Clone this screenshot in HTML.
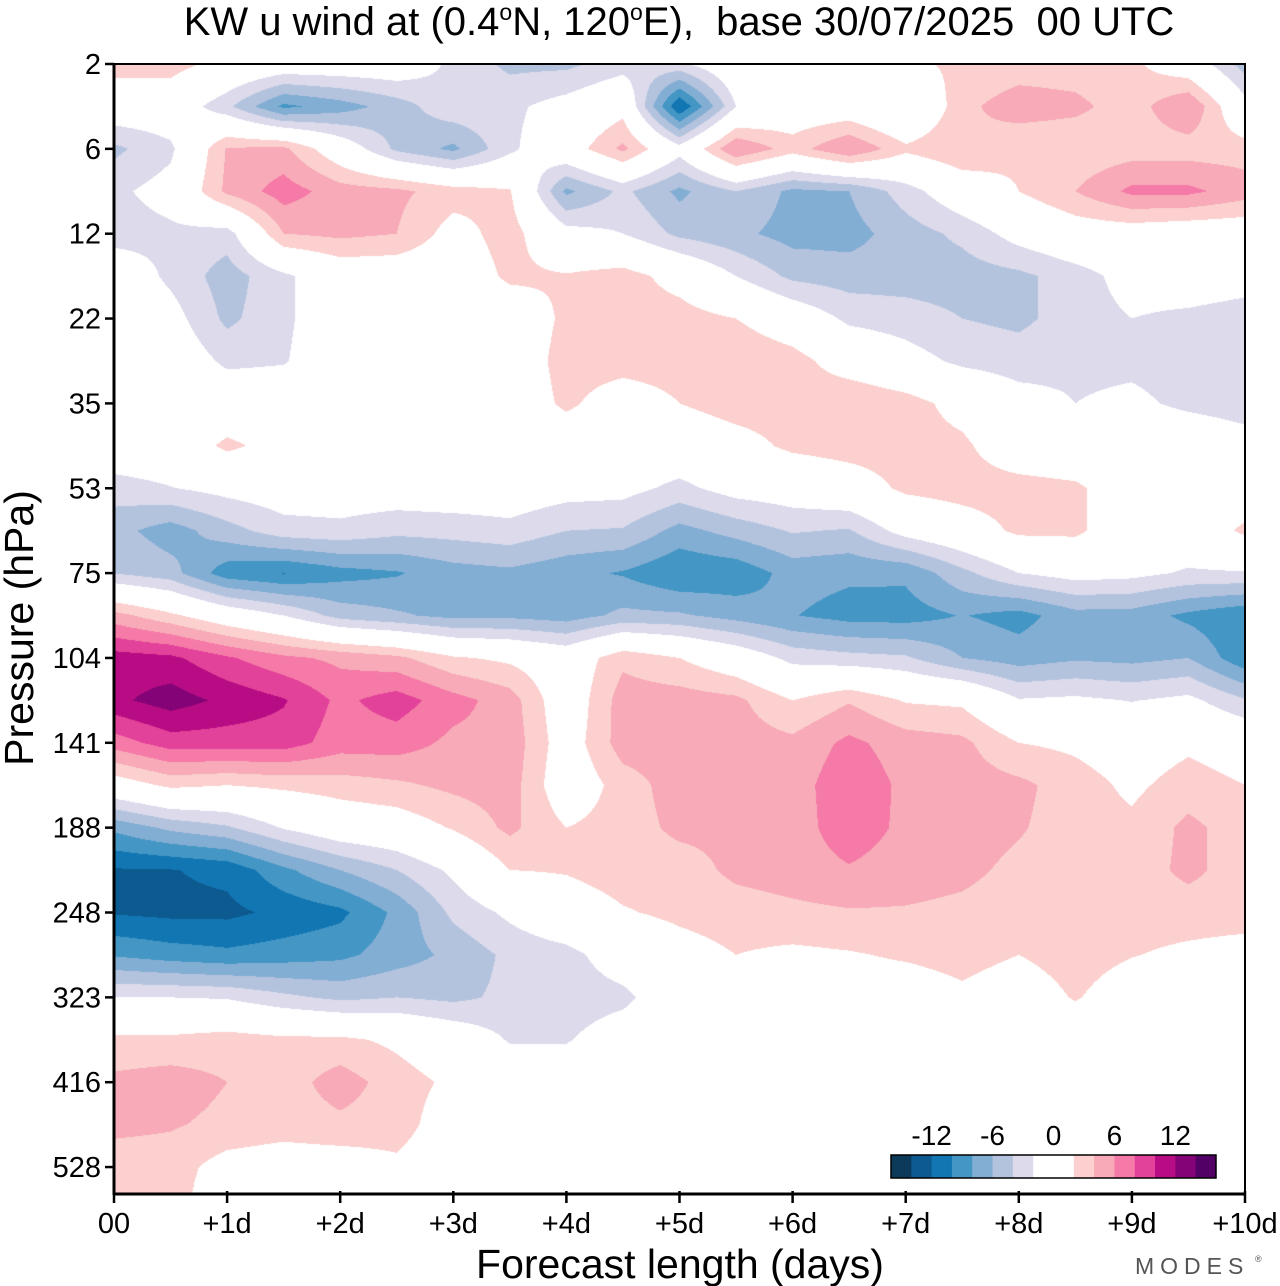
<!DOCTYPE html>
<html><head><meta charset="utf-8">
<style>
html,body{margin:0;padding:0;background:#fff;}
#wrap{position:relative;width:1280px;height:1286px;overflow:hidden;font-family:"Liberation Sans",Arial,sans-serif;}
#field{position:absolute;left:114px;top:64px;}
svg{position:absolute;left:0;top:0;}
</style></head>
<body>
<div id="wrap">
<canvas id="field" width="1131" height="1130"></canvas>
<svg id="axes" width="1280" height="1286"></svg>
</div>
<script>
// ---- data ----
const forecastDays = [0,0.5,1,1.5,2,2.5,3,3.5,4,4.5,5,5.5,6,6.5,7,7.5,8,8.5,9,9.5,10];
const levelIndex = [0,0.5,1,1.5,2,2.5,3,3.5,4,4.5,5,5.5,6,6.5,7,7.5,8,8.5,9,9.5,10,10.5,11,11.5,12,12.5,13,13.5];
const yTickLabels = ["2","6","12","22","35","53","75","104","141","188","248","323","416","528"];
const xTickLabels = ["00","+1d","+2d","+3d","+4d","+5d","+6d","+7d","+8d","+9d","+10d"];
const colorbarLabels = [-12,-6,0,6,12];
const levelEdges = [-14,-12,-10,-8,-6,-4,-2,2,4,6,8,10,12,14];
const levelColors = ["#0b3a5b","#0c5a8f","#1276b3","#4496c5","#83aed3","#b3c3de","#dcdaeb","#ffffff","#fbd0ce","#f8aab8","#f57aa7","#e3429a","#b80c84","#840377","#520066"];
// u wind (m/s), rows = model levels (top to bottom), cols = forecast steps
const uWind = [
[3,3,1,0,0,0,-2.5,-4.5,-4.5,-3,-2.5,0.5,1.5,2,1.5,2.5,3,3,2.5,0,-5],
[0,0,-3.5,-8.5,-7,-5,-2.5,-2.5,-1,1,-12,-2,0,0,-2,3.5,5,4.5,3,6,-1],
[-4.5,-2.5,4.2,4.5,0,-4.5,-6.5,-2.5,0.5,4.5,-1,6,3,6,2.5,4,2.5,2.5,3,3,3],
[-2.5,-1,4.5,7,5,4.5,3,2.2,-6.5,-3.5,-6.5,-4,-6.5,-6,-3,0,2,4,6.5,6.5,5],
[-3,-2.5,-3,4,4.5,4,1,3,-1,-2,-4.5,-5.5,-6.8,-6.8,-5,-3.5,-1,0.5,0.5,0,0],
[0,-2.5,-5,-2.5,0,0,0,2.5,2.2,3,1,-2,-4.5,-5,-5,-5,-4.5,-3,-1,-0.5,-1],
[0,-1,-4.5,-2.5,0,0,0,0,2.5,3,3,2,0,-2.5,-3,-4,-4.5,-3,-2,-2.5,-3],
[0,0,-2.5,-2.2,0,0,0,0,3,3,3,4,3,0.5,-1,-2.5,-3,-2.5,-2.5,-3,-3],
[0,0.5,0,0,0,0,0,0,2.5,0.5,2,3,3,4,3,1,-1,-2,-1.5,-2.5,-3],
[0,0,2.5,1,0,0,0,0,0,0,0,1,2.5,3,3,2.5,0,-0.5,0,0,-1],
[-3,-2.1,-1.2,-0.5,-0.5,-0.5,-0.3,-0.3,-1,-1.2,-2.6,-1,-0.5,0.5,2.5,3,3,2.5,0,0,0],
[-5.3,-7,-4.8,-2.9,-2.6,-3.4,-3.2,-2.7,-4,-4.2,-6.7,-5.2,-3.8,-4.2,-1,0.5,2.5,2.5,0,0,2.5],
[-4.1,-5.2,-9.2,-10.1,-8.8,-8.2,-6.9,-6.5,-7.4,-8.2,-9.8,-9.4,-7.2,-7.6,-7.6,-4.6,-2,-1,-1.3,-2.3,-2.2],
[4.8,2.5,0,-2,-4.8,-5.7,-6.6,-6.5,-7,-5.5,-5.7,-6.8,-7.9,-8.8,-8.9,-7.9,-8.8,-6.8,-6.9,-8.5,-9.8],
[11,10.5,8.3,6.5,5.5,4.5,2.3,1.5,0,3.5,2,0,-2.7,-3.3,-3.7,-6,-7,-6.3,-6.6,-6,-9.5],
[11.5,13,11.5,10.2,7.5,9,6.8,5,0,5,5,4.5,2,3.8,1.8,1.5,-1.8,-1.5,-2.1,-1.4,-3.8],
[7,9,9,9,7,7,5.5,5.3,0.5,5,5,5,4.5,6.5,5,4.5,2,1.5,0.5,1.5,0.5],
[0.5,2.5,2,2.5,3,3.6,4.5,5,0,3,5,5,5,7.5,5.5,5,4.5,3,1.5,3,2],
[-7.5,-5.5,-4.3,-1.8,0,0.5,2.2,4.5,2,3,4.5,4.5,5,7.2,5.5,5,4.2,3,2.5,4.5,3],
[-12.2,-12.1,-11.5,-8.5,-6,-4,-1.5,2,2.2,3,3,4.5,5,5.8,5,4.5,3.5,3,3,4.5,3],
[-12.2,-12.5,-12.5,-11.5,-10.5,-7.5,-3.5,-1.5,0.5,1.8,2.5,3,3.5,3.8,3.8,3.5,3,3,3,3,3],
[-8.2,-9,-9.5,-9,-8.5,-7,-5.5,-3.5,-2.8,-0.5,1,2,1.5,1.8,2.3,2.8,2,3,2.1,1.5,1],
[-2,-2,-2.2,-3.5,-4.5,-4,-4.5,-3.5,-3.2,-2.6,0,0.5,0.5,0.5,0.5,1.5,0.5,2.2,0.5,0.5,0],
[2.5,2.5,3,2.5,2.5,1.5,0,-2.2,-2.2,-0.5,0,0,0,0,0,0,0,0,0,0,0],
[4.5,5,4,3,5,3,1.5,0,0,0,0,0,0,0,0,0,0,0,0,0,0],
[4.5,4.2,3.5,3,3.5,3,0.5,0,0,0,0,0,0,0,0,0,0,0,0,0,0],
[3,3,1,0.5,0.5,1.5,0,0,0,0,0,0,0,0,0,0,0,0,0,0,0],
[3,3,0,0,0,0,0,0,0,0,0,0,0,0,0,0,0,0,0,0,0]
];
</script>
<script>
const PL=114, PT=64, PW=1131, PH=1130;
const xScale = d => PL + d*(PW/10);
const yScale = k => PT + k*84.85;
const NS='http://www.w3.org/2000/svg';
function hex(c){return [parseInt(c.substr(1,2),16),parseInt(c.substr(3,2),16),parseInt(c.substr(5,2),16)];}
const rgb = levelColors.map(hex);
function classOf(v){let i=0;while(i<levelEdges.length && v>=levelEdges[i]) i++;return i;}

// ---- contour field ----
(function(){
  const cv=document.getElementById('field');
  const ctx=cv.getContext('2d');
  const img=ctx.createImageData(PW,PH);
  const xs=forecastDays.map(xScale), ys=levelIndex.map(yScale);
  const nC=xs.length, nR=ys.length;
  for(let py=0;py<PH;py++){
    const Y=PT+py+0.5;
    let r=0; while(r<nR-2 && ys[r+1]<Y) r++;
    let ty=(Y-ys[r])/(ys[r+1]-ys[r]); ty=Math.max(0,Math.min(1,ty));
    for(let px=0;px<PW;px++){
      const X=PL+px+0.5;
      let c=0; while(c<nC-2 && xs[c+1]<X) c++;
      let tx=(X-xs[c])/(xs[c+1]-xs[c]); tx=Math.max(0,Math.min(1,tx));
      const a=uWind[r][c], b=uWind[r][c+1], d=uWind[r+1][c], e=uWind[r+1][c+1];
      const v=(a*(1-tx)+b*tx)*(1-ty)+(d*(1-tx)+e*tx)*ty;
      const col=rgb[classOf(v)];
      const o=(py*PW+px)*4;
      img.data[o]=col[0];img.data[o+1]=col[1];img.data[o+2]=col[2];img.data[o+3]=255;
    }
  }
  ctx.putImageData(img,0,0);
})();

// ---- axes ----
const svg=document.getElementById('axes');
function mk(tag,attrs,text){const e=document.createElementNS(NS,tag);for(const k in attrs)e.setAttribute(k,attrs[k]);if(text!==undefined)e.textContent=text;svg.appendChild(e);return e;}

const frame=mk('rect',{x:PL,y:PT,width:PW,height:PH,fill:'none',stroke:'#000','stroke-width':2});



yTickLabels.forEach((lab,i)=>{
  const y=yScale(i);
  const t=mk('line',{x1:PL-9,x2:PL,y1:y,y2:y,stroke:'#000','stroke-width':2.5});
  
  
  const tx=mk('text',{x:PL-13,y:y+10,'text-anchor':'end','font-size':29,fill:'#000'},lab);
  
  
});
xTickLabels.forEach((lab,i)=>{
  const x=xScale(i);
  const t=mk('line',{x1:x,x2:x,y1:PT+PH-3,y2:PT+PH+9,stroke:'#000','stroke-width':2.5});
  
  
  const tx=mk('text',{x:x,y:1233,'text-anchor':'middle','font-size':29,fill:'#000'},lab);
  
  
});
const la=mk('line',{x1:PL,x2:PL,y1:PT-1,y2:PT+PH+1,stroke:'#000','stroke-width':3});


const lb=mk('line',{x1:PL-1,x2:PL+PW+1,y1:PT+PH,y2:PT+PH,stroke:'#000','stroke-width':3});



const title=mk('text',{x:679,y:35,'text-anchor':'middle','font-size':40,fill:'#000','xml:space':'preserve'});


title.innerHTML='KW u wind at (0.4<tspan font-size="23" dy="-15">o</tspan><tspan dy="15">N, 120</tspan><tspan font-size="23" dy="-15">o</tspan><tspan dy="15">E),  base 30/07/2025  00 UTC</tspan>';
title.style.whiteSpace='pre';

const yt=mk('text',{x:0,y:0,'text-anchor':'middle','font-size':41,fill:'#000',transform:'translate(33,628) rotate(-90)'},'Pressure (hPa)');


const xt=mk('text',{x:680,y:1278,'text-anchor':'middle','font-size':41,fill:'#000'},'Forecast length (days)');


const brand=mk('text',{x:1135,y:1274,'font-size':23,fill:'#555','letter-spacing':'6'},'MODES');


const reg=mk('text',{x:1255,y:1262,'font-size':9,fill:'#555'},'®');



// ---- colorbar ----
const cbX0=891, cbX1=1216, cbY=1155, cbH=23;
const vMin=-16, vMax=16;
const cbScale=v=>cbX0+(v-vMin)*(cbX1-cbX0)/(vMax-vMin);
const cbBounds=[vMin].concat(levelEdges).concat([vMax]);
for(let i=0;i<levelColors.length;i++){
  const r=mk('rect',{x:cbScale(cbBounds[i]),y:cbY,width:cbScale(cbBounds[i+1])-cbScale(cbBounds[i])+0.5,height:cbH,fill:levelColors[i]});
  
  
}
const cbf=mk('rect',{x:cbX0,y:cbY,width:cbX1-cbX0,height:cbH,fill:'none',stroke:'#000','stroke-width':1.5});


colorbarLabels.forEach(v=>{
  const t=mk('text',{x:cbScale(v),y:1145,'text-anchor':'middle','font-size':28,fill:'#000'},String(v));
  
  
});
</script>
</body></html>
